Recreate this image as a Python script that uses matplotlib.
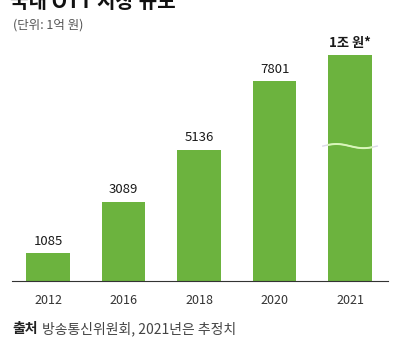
import numpy as np
import matplotlib.pyplot as plt

plt.rcParams['font.family'] = ['Noto Sans CJK KR', 'DejaVu Sans']

# Data
years = ['2012', '2016', '2018', '2020', '2021']
values = [1085, 3089, 5136, 7801, 10000]
labels = ['1085', '3089', '5136', '7801', '1조 원*']
# the 2021 bar is drawn shortened (broken axis mark)
drawn = [1085, 3089, 5136, 7801, 8830]
break_at = 5270

fig = plt.figure(figsize=(4.11, 3.47), dpi=100)
W, H = 411, 347
ax = fig.add_axes([12 / W, (H - 281) / H, 376 / W, 241 / H])

x = np.arange(len(years))
green = '#6cb33e'
ax.bar(x, drawn, width=0.58, color=green, zorder=2)
ax.set_xlim(-0.477, 4.503)
ax.set_ylim(0, 9414)

# Value labels above bars
for i, (d, lab) in enumerate(zip(drawn, labels)):
    bold = i == len(drawn) - 1
    ax.text(i, d + 470, lab, ha='center', va='center', fontsize=9.5,
            color='#1a1a1a', fontweight='bold' if bold else 'normal')

# Wavy break line on the last bar
wx = np.linspace(-0.36, 0.36, 60)
wy = break_at + 80 * np.sin((wx + 0.36) / 0.72 * 2 * np.pi)
ax.plot(4 + wx, wy, color='#dcd8ea', lw=1.0, zorder=3)
inside = np.abs(wx) <= 0.29
ax.plot(4 + wx[inside], wy[inside], color='#d9f7b8', lw=1.4, zorder=4)

# Axis styling
for s in ['top', 'right', 'left']:
    ax.spines[s].set_visible(False)
ax.spines['bottom'].set_color('#333333')
ax.spines['bottom'].set_linewidth(0.8)
ax.set_yticks([])
ax.set_xticks(x)
ax.set_xticklabels(years, fontsize=9, color='#333333')
ax.tick_params(axis='x', length=0, pad=9)

# Titles and source
fig.text(10 / W, 1 - 1 / H, '국내 OTT 시장 규모', fontsize=14.5,
         fontweight='bold', color='#111111', ha='left', va='center')
fig.text(13 / W, 1 - 25 / H, '(단위: 1억 원)', fontsize=9, color='#555555',
         ha='left', va='center')
fig.text(12 / W, 1 - 329 / H, '출처', fontsize=10, fontweight='bold',
         color='#222222', ha='left', va='center')
fig.text(42 / W, 1 - 329 / H, '방송통신위원회, 2021년은 추정치', fontsize=10,
         color='#444444', ha='left', va='center')

fig.savefig('out.png', dpi=100, facecolor='white')
